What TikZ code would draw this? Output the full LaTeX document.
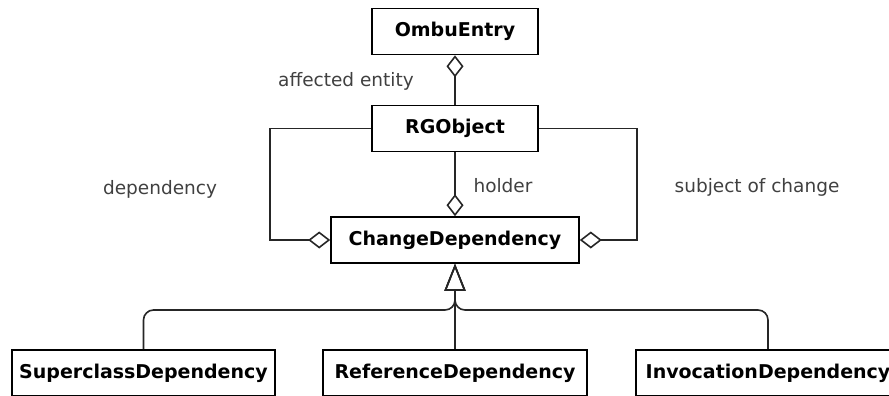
\documentclass[tikz,border=0pt]{standalone}
\usepackage{fontspec}
\setmainfont{DejaVu Sans}
\usetikzlibrary{arrows.meta}

\begin{document}
\begin{tikzpicture}[x=1pt, y=1pt, line width=1.6pt,
  box/.style = {draw, font=\fontsize{19}{23}\selectfont\bfseries, minimum height=46pt, inner sep=0pt},
  lbl/.style = {font=\fontsize{18.5}{22}\selectfont, text=black!75, inner sep=0pt},
  aggr/.tip = {Diamond[open, length=22pt, width=17pt]},
  gen/.tip = {Triangle[open, length=27pt, width=21pt]}]
\useasboundingbox (0,0) rectangle (889,-396);

\node[box, minimum width=166pt] (ombu_entry) at (455, -31.5) { OmbuEntry };
\node[box, minimum width=166pt] (rg_object) at (455, -128.5) { RGObject };
\node[box, minimum width=248pt] (change_dep) at (455, -240) { ChangeDependency };
\node[box, minimum width=263pt] (superclass_dep) at (143.5, -373) { SuperclassDependency };
\node[box, minimum width=264pt] (reference_dep) at (455, -373) { ReferenceDependency };
\node[box, minimum width=264pt] (invocation_dep) at (768, -373) { InvocationDependency };

\node[lbl] (affected) at (346, -81) { affected entity };
\node[lbl] (holder) at (503, -186) { holder };
\node[lbl] (dependency) at (160, -189) { dependency };
\node[lbl] (subject) at (757, -187) { subject of change };

\coordinate (merge) at (455, -310);

\begin{scope}[color=black!85]
\draw [aggr-] (ombu_entry) -- (rg_object);
\draw [-aggr] (rg_object) -- (change_dep);
\draw [-aggr] (rg_object.west) -- ++(-101,0) |- (change_dep.west);
\draw [-aggr] (rg_object.east) -- ++(98,0) |- (change_dep.east);
\end{scope}

\begin{scope}[color=black!85, rounded corners=10pt]
\draw [-gen] (reference_dep) -- (change_dep);
\draw [-gen] (superclass_dep.north) |- (merge) -- (change_dep.south);
\draw [-gen] (invocation_dep.north) |- (merge) -- (change_dep.south);
\end{scope}
\end{tikzpicture}
\end{document}
